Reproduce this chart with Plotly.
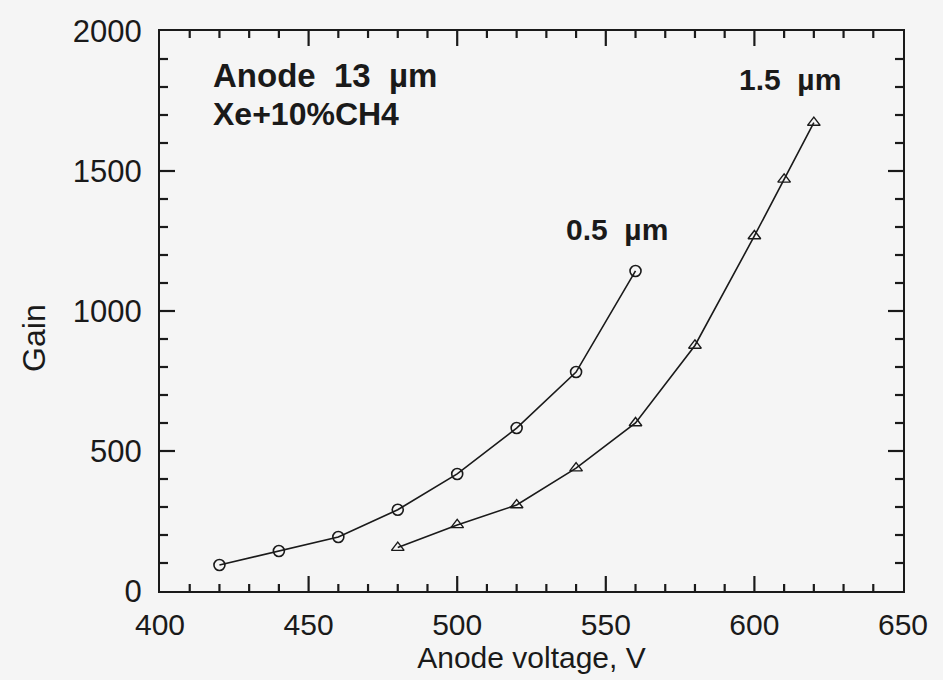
import numpy as np
import plotly.graph_objects as go

# 0.5 um anode strips (circles)
volt_05 = [420, 440, 460, 480, 500, 520, 540, 560]
gain_05 = [93, 143, 193, 290, 418, 582, 782, 1143]

# 1.5 um anode strips (triangles)
volt_15 = [480, 500, 520, 540, 560, 580, 600, 610, 620]
gain_15 = [155, 236, 307, 439, 600, 877, 1268, 1470, 1673]

x_range = [400, 650]
y_range = [0, 2000]
x_major, x_minor = 50, 10
y_major, y_minor = 500, 100

FONT = "Liberation Sans, Arial, Helvetica, sans-serif"
INK = "#1a1a1a"

W, H = 943, 680
M = dict(l=160, r=40, t=31, b=89)
plot_w = W - M["l"] - M["r"]
plot_h = H - M["t"] - M["b"]

fig = go.Figure()
fig.add_trace(go.Scatter(
    x=volt_05, y=gain_05, mode="lines+markers", name="0.5 µm",
    line=dict(color=INK, width=1.6),
    marker=dict(symbol="circle-open", size=11, color=INK, line=dict(width=1.6)),
    showlegend=False,
))
fig.add_trace(go.Scatter(
    x=volt_15, y=gain_15, mode="lines+markers", name="1.5 µm",
    line=dict(color=INK, width=1.6),
    marker=dict(symbol="triangle-up-open", size=11, color=INK, line=dict(width=1.4)),
    showlegend=False,
))

fig.update_layout(
    width=W, height=H, margin=M,
    paper_bgcolor="#f5f5f5", plot_bgcolor="#f5f5f5",
    font=dict(family=FONT, color=INK),
    xaxis=dict(
        range=x_range, tick0=x_range[0], dtick=x_major, showgrid=False, zeroline=False,
        showline=True, linecolor=INK, linewidth=2, mirror=True, ticks="",
        ticklabelstandoff=6,
        tickfont=dict(family=FONT, size=30, color=INK),
        title=dict(text="Anode voltage, V", font=dict(family=FONT, size=30, color=INK), standoff=6),
    ),
    yaxis=dict(
        range=y_range, tick0=y_range[0], dtick=y_major, showgrid=False, zeroline=False,
        showline=True, linecolor=INK, linewidth=2, mirror=True, ticks="",
        ticklabelstandoff=10,
        tickfont=dict(family=FONT, size=31, color=INK),
    ),
)

# inward tick marks on all four sides (axis decorations, from the axis scale constants)
def tick_shapes():
    shapes = []
    for v in np.arange(x_range[0] + x_minor, x_range[1], x_minor):
        ln = (15 if v % x_major == 0 else 7) / plot_h
        for y0, y1 in ((0, ln), (1, 1 - ln)):
            shapes.append(dict(type="line", xref="x", yref="paper", x0=float(v), x1=float(v),
                               y0=y0, y1=y1, line=dict(color=INK, width=2.2), layer="above"))
    for v in np.arange(y_range[0] + y_minor, y_range[1], y_minor):
        ln = (15 if v % y_major == 0 else 8) / plot_w
        for x0, x1 in ((0, ln), (1, 1 - ln)):
            shapes.append(dict(type="line", xref="paper", yref="y", x0=x0, x1=x1,
                               y0=float(v), y1=float(v), line=dict(color=INK, width=2.2), layer="above"))
    return shapes

fig.update_layout(shapes=tick_shapes())

fig.add_annotation(x=(34 - M["l"]) / plot_w, y=0.452, xref="paper", yref="paper",
                   xanchor="center", yanchor="middle", textangle=-90,
                   text="Gain", showarrow=False, font=dict(family=FONT, size=32, color=INK))
fig.add_annotation(x=0.068, y=0.92, xref="paper", yref="paper", xanchor="left", yanchor="middle",
                   text="<b>Anode&nbsp; 13&nbsp; µm</b>", showarrow=False,
                   font=dict(family=FONT, size=33, color=INK))
fig.add_annotation(x=0.068, y=0.852, xref="paper", yref="paper", xanchor="left", yanchor="middle",
                   text="<b>Xe+10%CH4</b>", showarrow=False,
                   font=dict(family=FONT, size=32, color=INK))
fig.add_annotation(x=0.615, y=0.645, xref="paper", yref="paper", xanchor="center", yanchor="middle",
                   text="<b>0.5&nbsp; µm</b>", showarrow=False,
                   font=dict(family=FONT, size=30, color=INK))
fig.add_annotation(x=0.848, y=0.914, xref="paper", yref="paper", xanchor="center", yanchor="middle",
                   text="<b>1.5&nbsp; µm</b>", showarrow=False,
                   font=dict(family=FONT, size=30, color=INK))

fig.write_html("out.html")
